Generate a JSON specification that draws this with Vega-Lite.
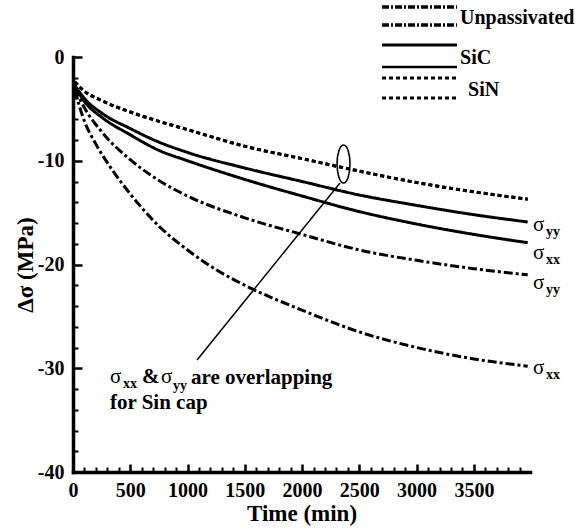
{
  "$schema": "https://vega.github.io/schema/vega-lite/v6.json",
  "width": 457,
  "height": 415,
  "autosize": "none",
  "padding": {"left": 73, "top": 57, "right": 50, "bottom": 60},
  "config": {
    "view": {"stroke": null},
    "font": "Liberation Serif",
    "axis": {"grid": false, "domainColor": "black", "tickColor": "black", "labelColor": "black", "titleColor": "black", "domainWidth": 3.5, "domainCap": "square", "labelFont": "Liberation Serif", "titleFont": "Liberation Serif"}
  },
  "resolve": {"axis": {"x": "independent", "y": "independent"}},
  "layer": [
    {
      "data": {"values": [
        {"s": "Unpassivated σxx", "m": "Unpassivated", "t": 15, "v": -3.2},
        {"s": "Unpassivated σxx", "m": "Unpassivated", "t": 100, "v": -6.2},
        {"s": "Unpassivated σxx", "m": "Unpassivated", "t": 200, "v": -8.4},
        {"s": "Unpassivated σxx", "m": "Unpassivated", "t": 350, "v": -11.0},
        {"s": "Unpassivated σxx", "m": "Unpassivated", "t": 500, "v": -13.2},
        {"s": "Unpassivated σxx", "m": "Unpassivated", "t": 750, "v": -16.3},
        {"s": "Unpassivated σxx", "m": "Unpassivated", "t": 1000, "v": -18.6},
        {"s": "Unpassivated σxx", "m": "Unpassivated", "t": 1250, "v": -20.5},
        {"s": "Unpassivated σxx", "m": "Unpassivated", "t": 1500, "v": -22.0},
        {"s": "Unpassivated σxx", "m": "Unpassivated", "t": 2000, "v": -24.4},
        {"s": "Unpassivated σxx", "m": "Unpassivated", "t": 2500, "v": -26.5},
        {"s": "Unpassivated σxx", "m": "Unpassivated", "t": 3000, "v": -28.0},
        {"s": "Unpassivated σxx", "m": "Unpassivated", "t": 3500, "v": -29.1},
        {"s": "Unpassivated σxx", "m": "Unpassivated", "t": 3970, "v": -29.8},
        {"s": "Unpassivated σyy", "m": "Unpassivated", "t": 15, "v": -3.0},
        {"s": "Unpassivated σyy", "m": "Unpassivated", "t": 100, "v": -4.9},
        {"s": "Unpassivated σyy", "m": "Unpassivated", "t": 250, "v": -7.2},
        {"s": "Unpassivated σyy", "m": "Unpassivated", "t": 500, "v": -9.9},
        {"s": "Unpassivated σyy", "m": "Unpassivated", "t": 750, "v": -11.9},
        {"s": "Unpassivated σyy", "m": "Unpassivated", "t": 1000, "v": -13.4},
        {"s": "Unpassivated σyy", "m": "Unpassivated", "t": 1500, "v": -15.5},
        {"s": "Unpassivated σyy", "m": "Unpassivated", "t": 2000, "v": -17.1},
        {"s": "Unpassivated σyy", "m": "Unpassivated", "t": 2500, "v": -18.6},
        {"s": "Unpassivated σyy", "m": "Unpassivated", "t": 3000, "v": -19.6},
        {"s": "Unpassivated σyy", "m": "Unpassivated", "t": 3500, "v": -20.4},
        {"s": "Unpassivated σyy", "m": "Unpassivated", "t": 3970, "v": -21.0},
        {"s": "SiC σxx", "m": "SiC", "t": 15, "v": -2.8},
        {"s": "SiC σxx", "m": "SiC", "t": 100, "v": -4.3},
        {"s": "SiC σxx", "m": "SiC", "t": 250, "v": -5.8},
        {"s": "SiC σxx", "m": "SiC", "t": 500, "v": -7.5},
        {"s": "SiC σxx", "m": "SiC", "t": 750, "v": -9.0},
        {"s": "SiC σxx", "m": "SiC", "t": 1000, "v": -10.0},
        {"s": "SiC σxx", "m": "SiC", "t": 1500, "v": -11.8},
        {"s": "SiC σxx", "m": "SiC", "t": 2000, "v": -13.4},
        {"s": "SiC σxx", "m": "SiC", "t": 2500, "v": -14.9},
        {"s": "SiC σxx", "m": "SiC", "t": 3000, "v": -16.1},
        {"s": "SiC σxx", "m": "SiC", "t": 3500, "v": -17.1},
        {"s": "SiC σxx", "m": "SiC", "t": 3970, "v": -17.9},
        {"s": "SiC σyy", "m": "SiC", "t": 15, "v": -2.7},
        {"s": "SiC σyy", "m": "SiC", "t": 100, "v": -4.0},
        {"s": "SiC σyy", "m": "SiC", "t": 250, "v": -5.4},
        {"s": "SiC σyy", "m": "SiC", "t": 500, "v": -6.9},
        {"s": "SiC σyy", "m": "SiC", "t": 750, "v": -8.2},
        {"s": "SiC σyy", "m": "SiC", "t": 1000, "v": -9.2},
        {"s": "SiC σyy", "m": "SiC", "t": 1500, "v": -10.7},
        {"s": "SiC σyy", "m": "SiC", "t": 2000, "v": -12.0},
        {"s": "SiC σyy", "m": "SiC", "t": 2500, "v": -13.3},
        {"s": "SiC σyy", "m": "SiC", "t": 3000, "v": -14.3},
        {"s": "SiC σyy", "m": "SiC", "t": 3500, "v": -15.2},
        {"s": "SiC σyy", "m": "SiC", "t": 3970, "v": -15.9},
        {"s": "SiN σxx", "m": "SiN", "t": 15, "v": -2.4},
        {"s": "SiN σxx", "m": "SiN", "t": 100, "v": -3.3},
        {"s": "SiN σxx", "m": "SiN", "t": 250, "v": -4.2},
        {"s": "SiN σxx", "m": "SiN", "t": 500, "v": -5.3},
        {"s": "SiN σxx", "m": "SiN", "t": 750, "v": -6.2},
        {"s": "SiN σxx", "m": "SiN", "t": 1000, "v": -7.0},
        {"s": "SiN σxx", "m": "SiN", "t": 1500, "v": -8.6},
        {"s": "SiN σxx", "m": "SiN", "t": 2000, "v": -9.8},
        {"s": "SiN σxx", "m": "SiN", "t": 2500, "v": -11.0},
        {"s": "SiN σxx", "m": "SiN", "t": 3000, "v": -12.1},
        {"s": "SiN σxx", "m": "SiN", "t": 3500, "v": -13.0},
        {"s": "SiN σxx", "m": "SiN", "t": 3970, "v": -13.7},
        {"s": "SiN σyy", "m": "SiN", "t": 15, "v": -2.4},
        {"s": "SiN σyy", "m": "SiN", "t": 100, "v": -3.3},
        {"s": "SiN σyy", "m": "SiN", "t": 250, "v": -4.2},
        {"s": "SiN σyy", "m": "SiN", "t": 500, "v": -5.3},
        {"s": "SiN σyy", "m": "SiN", "t": 750, "v": -6.2},
        {"s": "SiN σyy", "m": "SiN", "t": 1000, "v": -7.0},
        {"s": "SiN σyy", "m": "SiN", "t": 1500, "v": -8.6},
        {"s": "SiN σyy", "m": "SiN", "t": 2000, "v": -9.8},
        {"s": "SiN σyy", "m": "SiN", "t": 2500, "v": -11.0},
        {"s": "SiN σyy", "m": "SiN", "t": 3000, "v": -12.1},
        {"s": "SiN σyy", "m": "SiN", "t": 3500, "v": -13.0},
        {"s": "SiN σyy", "m": "SiN", "t": 3970, "v": -13.7}
      ]},
      "mark": {"type": "line", "color": "black", "strokeWidth": 3, "interpolate": "monotone"},
      "encoding": {
        "x": {"field": "t", "type": "quantitative", "scale": {"domain": [0, 3990], "nice": false, "zero": false},
          "axis": {"orient": "bottom", "values": [0, 500, 1000, 1500, 2000, 2500, 3000, 3500], "labelExpr": "'' + datum.value", "title": "Time (min)", "titleFontSize": 23, "titleFontWeight": "bold", "titlePadding": 2, "labelFontSize": 20, "labelFontWeight": "bold", "labelPadding": 16, "tickSize": -8, "tickWidth": 2.5, "labelFlush": false, "labelOverlap": false}},
        "y": {"field": "v", "type": "quantitative", "scale": {"domain": [-40, 0], "nice": false, "zero": false},
          "axis": {"orient": "left", "values": [0, -10, -20, -30, -40], "labelExpr": "'' + datum.value", "title": "Δσ (MPa)", "titleFontSize": 23, "titleFontWeight": "bold", "titlePadding": 0, "labelFontSize": 20, "labelFontWeight": "bold", "labelPadding": 18, "tickSize": -9, "tickWidth": 2.5, "labelOverlap": false}},
        "detail": {"field": "s"},
        "strokeDash": {"field": "m", "type": "nominal", "scale": {"domain": ["Unpassivated", "SiC", "SiN"], "range": [[9, 3, 3, 3], [1, 0], [4, 3]]}, "legend": null}
      }
    },
    {
      "data": {"values": [{}]},
      "mark": {"type": "rule", "color": "black", "strokeWidth": 1.5},
      "encoding": {
        "x": {"datum": 2331, "type": "quantitative", "axis": {"orient": "bottom", "values": [100,200,300,400,600,700,800,900,1100,1200,1300,1400,1600,1700,1800,1900,2100,2200,2300,2400,2600,2700,2800,2900,3100,3200,3300,3400,3600,3700,3800,3900], "labels": false, "title": null, "domain": false, "tickSize": -5, "tickWidth": 2}},
        "y": {"datum": -12.14, "type": "quantitative", "axis": {"orient": "left", "values": [-2,-4,-6,-8,-12,-14,-16,-18,-22,-24,-26,-28,-32,-34,-36,-38], "labels": false, "title": null, "domain": false, "tickSize": -5, "tickWidth": 2}},
        "x2": {"datum": 1083},
        "y2": {"datum": -29.2}
      }
    },
    {
      "data": {"values": [{}]},
      "mark": {"type": "point", "shape": "M0,-1A0.34,1 0 1,1 0,1A0.34,1 0 1,1 0,-1Z", "size": 1444, "filled": false, "stroke": "black", "strokeWidth": 1.6, "opacity": 1},
      "encoding": {
        "x": {"datum": 2362, "type": "quantitative", "axis": null},
        "y": {"datum": -10.31, "type": "quantitative", "axis": null}
      }
    },
    {
      "data": {"values": [{}]},
      "mark": {"type": "rule", "color": "black", "strokeWidth": 3.5, "strokeDash": [7, 2, 2, 2]},
      "encoding": {"x": {"datum": 2698, "type": "quantitative", "axis": null}, "x2": {"datum": 3353}, "y": {"datum": 4.82, "type": "quantitative", "axis": null}}
    },
    {
      "data": {"values": [{}]},
      "mark": {"type": "rule", "color": "black", "strokeWidth": 3.5, "strokeDash": [7, 2, 2, 2]},
      "encoding": {"x": {"datum": 2698, "type": "quantitative", "axis": null}, "x2": {"datum": 3353}, "y": {"datum": 3.08, "type": "quantitative", "axis": null}}
    },
    {
      "data": {"values": [{}]},
      "mark": {"type": "rule", "color": "black", "strokeWidth": 3},
      "encoding": {"x": {"datum": 2698, "type": "quantitative", "axis": null}, "x2": {"datum": 3353}, "y": {"datum": 1.16, "type": "quantitative", "axis": null}}
    },
    {
      "data": {"values": [{}]},
      "mark": {"type": "rule", "color": "black", "strokeWidth": 2.5},
      "encoding": {"x": {"datum": 2698, "type": "quantitative", "axis": null}, "x2": {"datum": 3353}, "y": {"datum": -0.96, "type": "quantitative", "axis": null}}
    },
    {
      "data": {"values": [{}]},
      "mark": {"type": "rule", "color": "black", "strokeWidth": 3, "strokeDash": [4, 3]},
      "encoding": {"x": {"datum": 2698, "type": "quantitative", "axis": null}, "x2": {"datum": 3353}, "y": {"datum": -2.02, "type": "quantitative", "axis": null}}
    },
    {
      "data": {"values": [{}]},
      "mark": {"type": "rule", "color": "black", "strokeWidth": 3, "strokeDash": [4, 3]},
      "encoding": {"x": {"datum": 2698, "type": "quantitative", "axis": null}, "x2": {"datum": 3353}, "y": {"datum": -3.95, "type": "quantitative", "axis": null}}
    },
    {
      "data": {"values": [{}]},
      "mark": {"type": "text", "text": "Unpassivated", "font": "Liberation Serif", "fontSize": 20, "fontWeight": "bold", "align": "left", "baseline": "middle", "color": "black"},
      "encoding": {"x": {"datum": 3379, "type": "quantitative", "axis": null}, "y": {"datum": 3.76, "type": "quantitative", "axis": null}}
    },
    {
      "data": {"values": [{}]},
      "mark": {"type": "text", "text": "SiC", "font": "Liberation Serif", "fontSize": 20, "fontWeight": "bold", "align": "left", "baseline": "middle", "color": "black"},
      "encoding": {"x": {"datum": 3379, "type": "quantitative", "axis": null}, "y": {"datum": -0.1, "type": "quantitative", "axis": null}}
    },
    {
      "data": {"values": [{}]},
      "mark": {"type": "text", "text": "SiN", "font": "Liberation Serif", "fontSize": 20, "fontWeight": "bold", "align": "left", "baseline": "middle", "color": "black"},
      "encoding": {"x": {"datum": 3449, "type": "quantitative", "axis": null}, "y": {"datum": -3.18, "type": "quantitative", "axis": null}}
    },
    {
      "data": {"values": [{}]},
      "mark": {"type": "text", "text": "σ", "font": "Liberation Serif", "fontSize": 21, "align": "left", "baseline": "middle", "color": "black"},
      "encoding": {"x": {"datum": 4016, "type": "quantitative", "axis": null}, "y": {"datum": -16.19, "type": "quantitative", "axis": null}}
    },
    {
      "data": {"values": [{}]},
      "mark": {"type": "text", "text": "yy", "font": "Liberation Serif", "fontSize": 14, "fontWeight": "bold", "align": "left", "baseline": "middle", "color": "black"},
      "encoding": {"x": {"datum": 4130, "type": "quantitative", "axis": null}, "y": {"datum": -16.87, "type": "quantitative", "axis": null}}
    },
    {
      "data": {"values": [{}]},
      "mark": {"type": "text", "text": "σ", "font": "Liberation Serif", "fontSize": 21, "align": "left", "baseline": "middle", "color": "black"},
      "encoding": {"x": {"datum": 4016, "type": "quantitative", "axis": null}, "y": {"datum": -18.89, "type": "quantitative", "axis": null}}
    },
    {
      "data": {"values": [{}]},
      "mark": {"type": "text", "text": "xx", "font": "Liberation Serif", "fontSize": 14, "fontWeight": "bold", "align": "left", "baseline": "middle", "color": "black"},
      "encoding": {"x": {"datum": 4130, "type": "quantitative", "axis": null}, "y": {"datum": -19.57, "type": "quantitative", "axis": null}}
    },
    {
      "data": {"values": [{}]},
      "mark": {"type": "text", "text": "σ", "font": "Liberation Serif", "fontSize": 21, "align": "left", "baseline": "middle", "color": "black"},
      "encoding": {"x": {"datum": 4016, "type": "quantitative", "axis": null}, "y": {"datum": -21.78, "type": "quantitative", "axis": null}}
    },
    {
      "data": {"values": [{}]},
      "mark": {"type": "text", "text": "yy", "font": "Liberation Serif", "fontSize": 14, "fontWeight": "bold", "align": "left", "baseline": "middle", "color": "black"},
      "encoding": {"x": {"datum": 4130, "type": "quantitative", "axis": null}, "y": {"datum": -22.46, "type": "quantitative", "axis": null}}
    },
    {
      "data": {"values": [{}]},
      "mark": {"type": "text", "text": "σ", "font": "Liberation Serif", "fontSize": 21, "align": "left", "baseline": "middle", "color": "black"},
      "encoding": {"x": {"datum": 4016, "type": "quantitative", "axis": null}, "y": {"datum": -29.98, "type": "quantitative", "axis": null}}
    },
    {
      "data": {"values": [{}]},
      "mark": {"type": "text", "text": "xx", "font": "Liberation Serif", "fontSize": 14, "fontWeight": "bold", "align": "left", "baseline": "middle", "color": "black"},
      "encoding": {"x": {"datum": 4130, "type": "quantitative", "axis": null}, "y": {"datum": -30.65, "type": "quantitative", "axis": null}}
    },
    {
      "data": {"values": [{}]},
      "mark": {"type": "text", "text": "σ", "font": "Liberation Serif", "fontSize": 21, "align": "left", "baseline": "middle", "color": "black"},
      "encoding": {"x": {"datum": 323, "type": "quantitative", "axis": null}, "y": {"datum": -30.84, "type": "quantitative", "axis": null}}
    },
    {
      "data": {"values": [{}]},
      "mark": {"type": "text", "text": "xx", "font": "Liberation Serif", "fontSize": 14, "fontWeight": "bold", "align": "left", "baseline": "middle", "color": "black"},
      "encoding": {"x": {"datum": 437, "type": "quantitative", "axis": null}, "y": {"datum": -31.5, "type": "quantitative", "axis": null}}
    },
    {
      "data": {"values": [{}]},
      "mark": {"type": "text", "text": "&", "font": "Liberation Serif", "fontSize": 21, "fontWeight": "bold", "align": "left", "baseline": "middle", "color": "black"},
      "encoding": {"x": {"datum": 603, "type": "quantitative", "axis": null}, "y": {"datum": -30.84, "type": "quantitative", "axis": null}}
    },
    {
      "data": {"values": [{}]},
      "mark": {"type": "text", "text": "σ", "font": "Liberation Serif", "fontSize": 21, "align": "left", "baseline": "middle", "color": "black"},
      "encoding": {"x": {"datum": 768, "type": "quantitative", "axis": null}, "y": {"datum": -30.84, "type": "quantitative", "axis": null}}
    },
    {
      "data": {"values": [{}]},
      "mark": {"type": "text", "text": "yy", "font": "Liberation Serif", "fontSize": 14, "fontWeight": "bold", "align": "left", "baseline": "middle", "color": "black"},
      "encoding": {"x": {"datum": 873, "type": "quantitative", "axis": null}, "y": {"datum": -31.7, "type": "quantitative", "axis": null}}
    },
    {
      "data": {"values": [{}]},
      "mark": {"type": "text", "text": "are overlapping", "font": "Liberation Serif", "fontSize": 21, "fontWeight": "bold", "align": "left", "baseline": "middle", "color": "black"},
      "encoding": {"x": {"datum": 1030, "type": "quantitative", "axis": null}, "y": {"datum": -30.94, "type": "quantitative", "axis": null}}
    },
    {
      "data": {"values": [{}]},
      "mark": {"type": "text", "text": "for Sin cap", "font": "Liberation Serif", "fontSize": 21, "fontWeight": "bold", "align": "left", "baseline": "middle", "color": "black"},
      "encoding": {"x": {"datum": 323, "type": "quantitative", "axis": null}, "y": {"datum": -33.35, "type": "quantitative", "axis": null}}
    }
  ]
}
